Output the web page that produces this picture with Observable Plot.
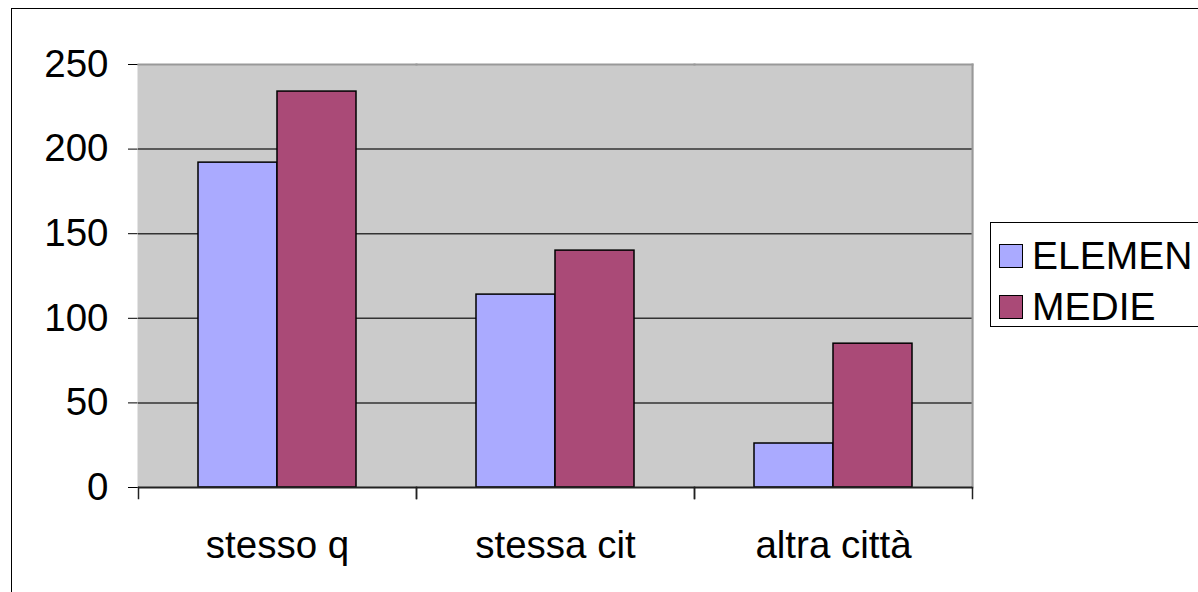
<!DOCTYPE html>
<html><head><meta charset="utf-8">
<script src="https://cdn.jsdelivr.net/npm/d3@7"></script>
<script src="https://cdn.jsdelivr.net/npm/@observablehq/plot@0.6"></script>
<style>
html,body{margin:0;padding:0;background:#fff;}
#wrap{position:relative;width:1198px;height:592px;overflow:hidden;font-family:"Liberation Sans",Arial,sans-serif;}
#border{position:absolute;left:11px;top:8px;width:1250px;height:650px;border:1.5px solid #000;box-sizing:border-box;}
#chart{position:absolute;left:0;top:0;}
#legend{position:absolute;left:990px;top:222px;width:260px;height:105px;border:1.5px solid #000;box-sizing:border-box;background:#fff;}
.item{position:absolute;left:8px;display:flex;align-items:center;font-size:39px;color:#000;line-height:1;}
.sw{width:22px;height:22px;border:1.5px solid #000;margin-right:9px;box-sizing:content-box;}
</style></head>
<body>
<div id="wrap"><div id="border"></div><div id="chart"></div><div id="legend"></div></div>
<script>
const categories = ["stesso q", "stessa cit", "altra città"];
const series = ["ELEMEN", "MEDIE"];
const elemen = [192, 114, 26];
const medie = [234, 140, 85];
const yTicks = [0, 50, 100, 150, 200, 250];
const colors = ["#aaaaff", "#aa4a77"];

const rows = [];
categories.forEach((c, i) => {
  rows.push({category: c, series: series[0], value: elemen[i]});
  rows.push({category: c, series: series[1], value: medie[i]});
});

const W = 1198, H = 592, mL = 138, mR = 226, mT = 64, mB = 105;
const innerH = H - mT - mB;

const chart = Plot.plot({
  width: W, height: H,
  marginLeft: mL, marginRight: mR, marginTop: mT, marginBottom: mB,
  style: {fontFamily: "Liberation Sans, Arial, sans-serif", fontSize: "38.5px", color: "#000", background: "transparent"},
  fx: {domain: categories, padding: 0, label: null, axis: "bottom", tickSize: 0, tickPadding: 43},
  x: {domain: series, paddingInner: 0, paddingOuter: 0.75, axis: null},
  y: {domain: [0, 250], ticks: yTicks, tickSize: 10, tickPadding: 20, label: null, line: true},
  color: {domain: series, range: colors},
  marks: [
    Plot.frame({fill: "#cbcbcb", stroke: null, insetLeft: -1, insetRight: -1}),
    Plot.gridY(yTicks.filter(d => d > 0 && d < 250), {stroke: "#333", strokeOpacity: 1, strokeWidth: 1.5}),
    Plot.barY(rows, {fx: "category", x: "series", y: "value", fill: "series", stroke: "#000", strokeWidth: 1.5}),
    Plot.frame({anchor: "top", stroke: "#999", strokeWidth: 2}),
    Plot.frame({anchor: "right", stroke: "#999", strokeWidth: 2, facetAnchor: "right"}),
    Plot.ruleY([0], {stroke: "#222", strokeWidth: 2}),
    Plot.frame({anchor: "left", stroke: "#222", strokeWidth: 1.5, insetTop: innerH, insetBottom: -11}),
    Plot.frame({anchor: "right", stroke: "#222", strokeWidth: 1.5, insetTop: innerH, insetBottom: -11})
  ]
});
document.getElementById("chart").appendChild(chart);

const legend = document.getElementById("legend");
series.forEach((s, i) => {
  const it = document.createElement("div");
  it.className = "item";
  it.style.top = (13 + i * 51) + "px";
  it.innerHTML = `<span class="sw" style="background:${colors[i]}"></span><span>${s}</span>`;
  legend.appendChild(it);
});
</script>
</body></html>
